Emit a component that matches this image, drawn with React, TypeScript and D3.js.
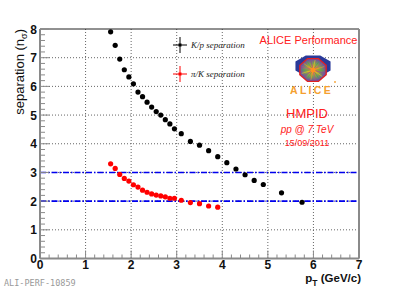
import React from "react";
import * as d3 from "d3";

const ptKp = [1.55, 1.65, 1.75, 1.85, 1.95, 2.05, 2.15, 2.25, 2.35, 2.45, 2.55, 2.65, 2.75, 2.85, 2.95, 3.1, 3.3, 3.5, 3.7, 3.9, 4.1, 4.3, 4.5, 4.7, 4.9, 5.3, 5.75];
const sepKp = [7.9, 7.43, 6.95, 6.58, 6.33, 6.09, 5.8, 5.64, 5.45, 5.28, 5.12, 5.0, 4.84, 4.69, 4.52, 4.35, 4.08, 3.95, 3.76, 3.55, 3.34, 3.12, 2.92, 2.72, 2.58, 2.29, 1.96];
const ptPiK = [1.55, 1.65, 1.75, 1.85, 1.95, 2.05, 2.15, 2.25, 2.35, 2.45, 2.55, 2.65, 2.75, 2.85, 2.95, 3.1, 3.3, 3.5, 3.7, 3.9];
const sepPiK = [3.3, 3.14, 2.93, 2.79, 2.7, 2.57, 2.49, 2.38, 2.31, 2.25, 2.21, 2.18, 2.15, 2.1, 2.1, 2.03, 1.95, 1.91, 1.83, 1.79];
const refLines = [2, 3];
const xTicks = [0, 1, 2, 3, 4, 5, 6, 7];
const yTicks = [0, 1, 2, 3, 4, 5, 6, 7, 8];

const W = 399, H = 288;
const L = 40, R = 359, T = 29, B = 258.5;

export default function App() {
  const x = d3.scaleLinear().domain([0, 7]).range([L, R]);
  const y = d3.scaleLinear().domain([0, 8]).range([B, T]);
  const xMinor = d3.range(0, 7.0001, 0.2);
  const yMinor = d3.range(0, 8.0001, 0.2);
  const axisCol = "#8a8a8a";
  const font = "'Liberation Sans', Arial, Helvetica, sans-serif";
  const serif = "'Liberation Serif', 'Times New Roman', serif";

  const oct = (cx: number, cy: number, r: number, ry: number) =>
    d3.range(8).map((i) => {
      const a = Math.PI / 8 + (i * Math.PI) / 4;
      return [cx + r * Math.cos(a), cy + ry * Math.sin(a)].join(",");
    }).join(" ");
  const lcx = 313, lcy = 70;
  const rayCols = ["#50b040", "#9040a0", "#e0d020", "#40a060", "#b05090", "#f0a020"];

  return (
    <svg width={W} height={H} style={{ position: "absolute", left: 0, top: 0, background: "#fff" }}>
      <defs>
        <radialGradient id="burst" cx="50%" cy="50%" r="50%">
          <stop offset="0%" stopColor="#ffd000" />
          <stop offset="25%" stopColor="#f09030" />
          <stop offset="60%" stopColor="#80a050" />
          <stop offset="100%" stopColor="#7050a0" />
        </radialGradient>
      </defs>
      <rect x={0} y={0} width={W} height={H} fill="#fff" />
      {/* grid */}
      {xTicks.slice(1, -1).map((t) => (
        <line key={"gx" + t} x1={x(t)} x2={x(t)} y1={T} y2={B} stroke="#666" strokeWidth={1} strokeDasharray="1,2" />
      ))}
      {yTicks.slice(1, -1).map((t) => (
        <line key={"gy" + t} x1={L} x2={R} y1={y(t)} y2={y(t)} stroke="#666" strokeWidth={1} strokeDasharray="1,2" />
      ))}
      {/* reference lines */}
      {refLines.map((v) => (
        <line key={"r" + v} x1={L} x2={R} y1={y(v)} y2={y(v)} stroke="#0000ee" strokeWidth={1.6} strokeDasharray="6,2,1.5,2" />
      ))}
      {/* frame */}
      <line x1={L} x2={R} y1={T} y2={T} stroke="#222" strokeWidth={1} />
      <line x1={R} x2={R} y1={T} y2={B} stroke={axisCol} strokeWidth={2} />
      <line x1={L} x2={L} y1={T} y2={B} stroke={axisCol} strokeWidth={2} />
      <line x1={L} x2={R} y1={B} y2={B} stroke={axisCol} strokeWidth={2} />
      {/* ticks */}
      {xMinor.map((t, i) => (
        <line key={"xm" + i} x1={x(t)} x2={x(t)} y1={B} y2={B - (i % 5 === 0 ? 8 : 4)} stroke={axisCol} strokeWidth={1} />
      ))}
      {yMinor.map((t, i) => (
        <line key={"ym" + i} x1={L} x2={L + (i % 5 === 0 ? 9 : 5)} y1={y(t)} y2={y(t)} stroke={axisCol} strokeWidth={1} />
      ))}
      {/* tick labels */}
      {xTicks.map((t) => (
        <text key={"xl" + t} x={x(t)} y={269} textAnchor="middle" fontFamily={font} fontWeight="bold" fontSize={12} fill="#111">{t}</text>
      ))}
      {yTicks.map((t) => (
        <text key={"yl" + t} x={37} y={y(t) + 4.5} textAnchor="end" fontFamily={font} fontWeight="bold" fontSize={12} fill="#111">{t}</text>
      ))}
      {/* axis titles */}
      <text transform={`translate(24,${T}) rotate(-90)`} textAnchor="end" fontFamily={font} fontSize={13} fill="#111">
        separation (n<tspan fontSize={9} dy={3}>σ</tspan><tspan dy={-3}>)</tspan>
      </text>
      <text x={R + 2} y={282} textAnchor="end" fontFamily={font} fontWeight="bold" fontSize={11.5} fill="#111">
        p<tspan fontSize={8.5} dy={3.5}>T</tspan><tspan dy={-3.5}> (GeV/c)</tspan>
      </text>
      <text x={4} y={286} fontFamily="'DejaVu Sans Mono', 'Liberation Mono', monospace" fontSize={8.5} fill="#999">ALI-PERF-10859</text>
      {/* data */}
      {ptKp.map((p, i) => (
        <circle key={"k" + i} cx={x(p)} cy={y(sepKp[i])} r={2.6} fill="#000" />
      ))}
      {ptPiK.map((p, i) => (
        <circle key={"p" + i} cx={x(p)} cy={y(sepPiK[i])} r={2.6} fill="#ff0000" />
      ))}
      {/* legend */}
      <g>
        <line x1={173} x2={187} y1={45} y2={45} stroke="#000" strokeWidth={1} />
        <line x1={180} x2={180} y1={37} y2={53} stroke="#000" strokeWidth={1} />
        <rect x={178.5} y={43.5} width={3} height={3} fill="#000" />
        <text x={191} y={48} fontFamily={serif} fontStyle="italic" fontSize={9} fill="#222">K/p separation</text>
        <line x1={173} x2={187} y1={74} y2={74} stroke="#ff0000" strokeWidth={1} />
        <line x1={180} x2={180} y1={66} y2={82} stroke="#ff0000" strokeWidth={1} />
        <rect x={178.5} y={72.5} width={3} height={3} fill="#ff0000" />
        <text x={191} y={77} fontFamily={serif} fontStyle="italic" fontSize={9} fill="#222">π/K separation</text>
      </g>
      {/* ALICE block */}
      <text x={308.5} y={44} textAnchor="middle" fontFamily={font} fontSize={11} fill="#ff2020">ALICE Performance</text>
      <polygon points={oct(lcx, 66, 19, 11.5)} fill="#2a3a9a" />
      <polygon points={oct(lcx, lcy, 15, 13)} fill="#e02020" />
      <polygon points={oct(lcx, lcy, 13.5, 11.6)} fill="url(#burst)" />
      {d3.range(18).map((i) => {
        const a = (i * Math.PI * 2) / 18;
        return (
          <line key={"ray" + i} x1={lcx} y1={lcy} x2={lcx + 12 * Math.cos(a)} y2={lcy + 10 * Math.sin(a)}
            stroke={rayCols[i % rayCols.length]} strokeWidth={0.8} opacity={0.8} />
        );
      })}
      <circle cx={lcx} cy={lcy} r={2.5} fill="#ff9020" />
      <circle cx={335} cy={82} r={0.9} fill="#f5a030" />
      <text x={311.5} y={93.5} textAnchor="middle" fontFamily={font} fontWeight="bold" fontSize={10.5} fill="#f5a030" letterSpacing={2.3}>ALICE</text>
      <text x={307} y={118} textAnchor="middle" fontFamily={font} fontSize={13} fill="#ff2020">HMPID</text>
      <text x={307} y={132.5} textAnchor="middle" fontFamily={font} fontStyle="italic" fontSize={10} fill="#ff2020">pp @ 7 TeV</text>
      <text x={307} y={146} textAnchor="middle" fontFamily={font} fontSize={9} fill="#ff2020">15/09/2011</text>
    </svg>
  );
}
